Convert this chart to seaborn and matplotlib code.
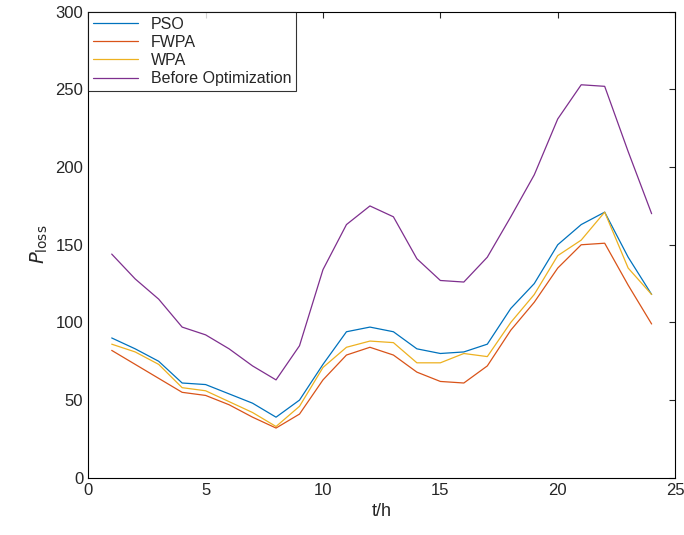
import matplotlib
matplotlib.use("Agg")
import matplotlib.pyplot as plt
import seaborn as sns
import pandas as pd

t = list(range(1, 25))
pso = [90,83,75,61,60,54,48,39,50,73,94,97,94,83,80,81,86,109,125,150,163,171,142,118]
fwpa = [82,73,64,55,53,47,39,32,41,63,79,84,79,68,62,61,72,95,113,135,150,151,124,99]
wpa = [86,81,73,58,56,49,42,33,46,71,84,88,87,74,74,80,78,100,118,143,153,171,135,118]
before = [144,128,115,97,92,83,72,63,85,134,163,175,168,141,127,126,142,168,195,231,253,252,210,170]
names = ["PSO", "FWPA", "WPA", "Before Optimization"]
colors = ["#0072BD", "#D95319", "#EDB120", "#7E2F8E"]

sns.set_style("white")
plt.rcParams['font.family'] = ['Liberation Sans', 'DejaVu Sans']
df = pd.DataFrame({"t": t * 4,
                   "v": pso + fwpa + wpa + before,
                   "s": sum([[n] * 24 for n in names], [])})
fig = plt.figure(figsize=(6.84, 5.35), dpi=100)
ax = fig.add_axes([0.129, 0.107, 0.858, 0.871])
sns.lineplot(data=df, x="t", y="v", hue="s", palette=colors, ax=ax, linewidth=0.9)
ax.set_xlim(0, 25)
ax.set_ylim(0, 300)
ax.set_xticks([0, 5, 10, 15, 20, 25])
ax.set_yticks(range(0, 301, 50))
ax.tick_params(direction="in", top=True, right=True, labelsize=12, length=4)
for s in ax.spines.values():
    s.set_color("black"); s.set_linewidth(0.8)
ax.set_xlabel("t/h", fontsize=13)
ax.set_ylabel(r"$P_{\rm loss}$", fontsize=14)
leg = ax.legend(loc="upper left", fontsize=11.5, frameon=True, fancybox=False,
                borderaxespad=0, handlelength=2.8, labelspacing=0.2, borderpad=0.3)
leg.get_frame().set_edgecolor("black")
leg.get_frame().set_linewidth(0.8)
fig.savefig("out.png", dpi=100)
